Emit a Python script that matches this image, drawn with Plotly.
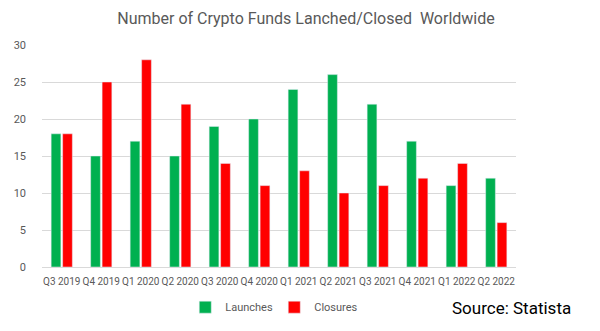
import plotly.graph_objects as go

quarters = ["Q3 2019", "Q4 2019", "Q1 2020", "Q2 2020", "Q3 2020", "Q4 2020",
            "Q1 2021", "Q2 2021", "Q3 2021", "Q4 2021", "Q1 2022", "Q2 2022"]
launches = [18, 15, 17, 15, 19, 20, 24, 26, 22, 17, 11, 12]
closures = [18, 25, 28, 22, 14, 11, 13, 10, 11, 12, 14, 6]
y_ticks = [0, 5, 10, 15, 20, 25, 30]

font_family = "Roboto, sans-serif"

fig = go.Figure()
fig.add_trace(go.Bar(x=quarters, y=launches, name="Launches", marker_color="#00B050"))
fig.add_trace(go.Bar(x=quarters, y=closures, name="Closures", marker_color="#FF0000"))

fig.update_layout(
    width=600, height=331,
    margin=dict(l=42, r=84, t=45, b=64, autoexpand=False),
    paper_bgcolor="white", plot_bgcolor="white",
    barmode="group", bargap=0.42, bargroupgap=0.15,
    font=dict(family=font_family, color="#595959", size=11),
    title=dict(text="Number of Crypto Funds Lanched/Closed  Worldwide",
               x=0.51, xanchor="center", y=0.945, yanchor="middle",
               font=dict(size=16, color="#595959", family=font_family)),
    legend=dict(orientation="h", x=0.49, xanchor="center",
                yref="container", y=0.072, yanchor="middle",
                font=dict(size=11, color="#595959"), entrywidth=44, traceorder="normal"),
    showlegend=True,
)
fig.update_xaxes(showgrid=False, showline=True, linecolor="#D9D9D9", linewidth=1,
                 ticks="", tickangle=0, ticklabelstandoff=5,
                 tickfont=dict(size=10, color="#595959"))
fig.update_yaxes(range=[0, 30], tickvals=y_ticks, showgrid=True, gridcolor="#D9D9D9",
                 gridwidth=1, zeroline=False, ticks="", ticklabelstandoff=15,
                 tickfont=dict(size=11, color="#595959"))

fig.add_annotation(text="Source: Statista", xref="paper", yref="paper",
                   x=1.12, y=-0.185, xanchor="right", yanchor="middle", showarrow=False,
                   font=dict(size=17, color="black", family=font_family))

fig.write_html("out.html")
